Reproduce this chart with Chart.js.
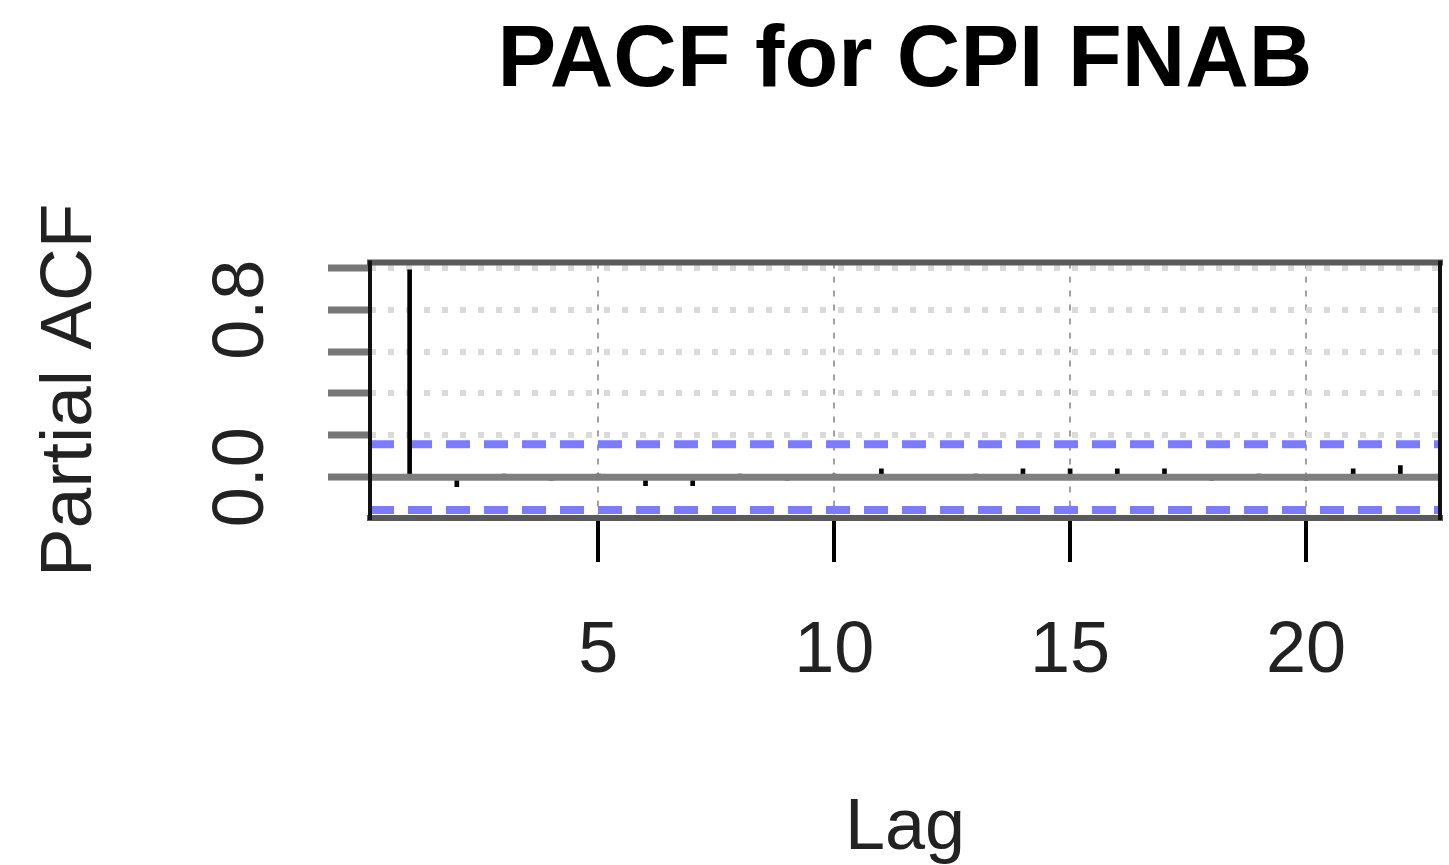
<!DOCTYPE html>
<html>
<head>
<meta charset="utf-8">
<title>PACF for CPI FNAB</title>
<script src="https://cdn.jsdelivr.net/npm/chart.js@4"></script>
<style>
  html, body { margin: 0; padding: 0; background: #fff; }
  #pacf { display: block; }
</style>
</head>
<body>
<canvas id="pacf" width="1449" height="865"></canvas>
<script>
// Data
const lags = [1, 2, 3, 4, 5, 6, 7, 8, 9, 10, 11, 12, 13, 14, 15, 16, 17, 18, 19, 20, 21, 22];
const pacfValues = [0.99, -0.045, 0.01, -0.01, 0.005, -0.04, -0.04, 0.01, -0.005, 0.01, 0.04,
    0.0, 0.01, 0.04, 0.04, 0.04, 0.04, -0.01, 0.005, -0.01, 0.04, 0.055];
const ciLimit = 0.157;
const xTickValues = [5, 10, 15, 20];
const yTickValues = [0, 0.2, 0.4, 0.6, 0.8, 1.0];
const yLabelValues = [0, 0.8];
const xRange = [0.16, 22.84];
const yRange = [-0.195, 1.025];

Chart.defaults.font.family = "'Liberation Sans', Arial, sans-serif";
Chart.defaults.color = "#111";

function flatLine(y) {
    return [{ x: xRange[0], y: y }, { x: xRange[1], y: y }];
}

// Box round the plot and the rotated y tick labels, as R draws them
const framePlugin = {
    id: "frame",
    afterDatasetsDraw(chart) {
        const { ctx, chartArea: a } = chart;
        ctx.save();
        ctx.lineCap = "square";
        ctx.strokeStyle = "#5a5a5a";
        ctx.lineWidth = 6;
        ctx.beginPath();
        ctx.moveTo(a.left, a.top);
        ctx.lineTo(a.right, a.top);
        ctx.moveTo(a.left, a.bottom);
        ctx.lineTo(a.right, a.bottom);
        ctx.stroke();
        ctx.strokeStyle = "#111";
        ctx.lineWidth = 4;
        ctx.beginPath();
        ctx.moveTo(a.left, a.top);
        ctx.lineTo(a.left, a.bottom);
        ctx.moveTo(a.right, a.top);
        ctx.lineTo(a.right, a.bottom);
        ctx.stroke();
        ctx.restore();
    },
    afterDraw(chart) {
        const { ctx } = chart;
        const yScale = chart.scales.y;
        ctx.save();
        ctx.fillStyle = "#222";
        ctx.font = "72px 'Liberation Sans', Arial, sans-serif";
        ctx.textAlign = "center";
        ctx.textBaseline = "middle";
        yLabelValues.forEach(function (v) {
            ctx.save();
            ctx.translate(243, yScale.getPixelForValue(v));
            ctx.rotate(-Math.PI / 2);
            ctx.fillText(v.toFixed(1), 0, 0);
            ctx.restore();
        });
        ctx.restore();
    },
};

const ctx = document.getElementById("pacf").getContext("2d");

new Chart(ctx, {
    type: "bar",
    data: {
        datasets: [
            {
                type: "bar",
                data: lags.map((l, i) => ({ x: l, y: pacfValues[i] })),
                backgroundColor: "#000",
                barThickness: 4,
                order: 1,
            },
            {
                type: "line",
                data: flatLine(ciLimit),
                borderColor: "#7b7bff",
                borderWidth: 8,
                borderDash: [24, 14],
                pointRadius: 0,
                order: 2,
            },
            {
                type: "line",
                data: flatLine(-ciLimit),
                borderColor: "#7b7bff",
                borderWidth: 8,
                borderDash: [24, 14],
                pointRadius: 0,
                order: 2,
            },
            {
                // zero line sits over the spikes
                type: "line",
                data: flatLine(0),
                borderColor: "#7f7f7f",
                borderWidth: 7,
                pointRadius: 0,
                order: 0,
            },
        ],
    },
    options: {
        responsive: false,
        animation: false,
        layout: { padding: { left: 0, right: 9, top: 0, bottom: 0 } },
        plugins: {
            legend: { display: false },
            tooltip: { enabled: false },
            title: {
                display: true,
                text: "PACF for CPI FNAB",
                fullSize: false,
                color: "#000",
                font: { size: 88, weight: "bold" },
                padding: { top: 9, bottom: 148 },
            },
        },
        scales: {
            x: {
                type: "linear",
                min: xRange[0],
                max: xRange[1],
                offset: false,
                afterBuildTicks: (s) => { s.ticks = xTickValues.map((v) => ({ value: v })); },
                afterFit: (s) => { s.height = 347; },
                ticks: { color: "#222", font: { size: 72 }, padding: 47, autoSkip: false, maxRotation: 0 },
                grid: {
                    offset: false,
                    color: "#a0a0a0",
                    lineWidth: 2,
                    tickColor: "#000",
                    tickWidth: 4,
                    tickLength: 44,
                },
                border: { display: false, dash: [6, 8] },
                title: {
                    display: true,
                    text: "Lag",
                    color: "#222",
                    font: { size: 72, lineHeight: 1 },
                    padding: 0,
                },
            },
            y: {
                type: "linear",
                min: yRange[0],
                max: yRange[1],
                afterBuildTicks: (s) => { s.ticks = yTickValues.map((v) => ({ value: v })); },
                afterFit: (s) => { s.width = 370; },
                ticks: { callback: () => "", padding: 0 },
                grid: {
                    color: "#dadada",
                    lineWidth: 6,
                    tickColor: "#777",
                    tickWidth: 7,
                    tickLength: 42,
                },
                border: { display: false, dash: [6, 12] },
                title: {
                    display: true,
                    text: "Partial ACF",
                    color: "#222",
                    font: { size: 73, lineHeight: 1 },
                    padding: { top: 34, bottom: 0 },
                },
            },
        },
    },
    plugins: [framePlugin],
});
</script>
</body>
</html>
